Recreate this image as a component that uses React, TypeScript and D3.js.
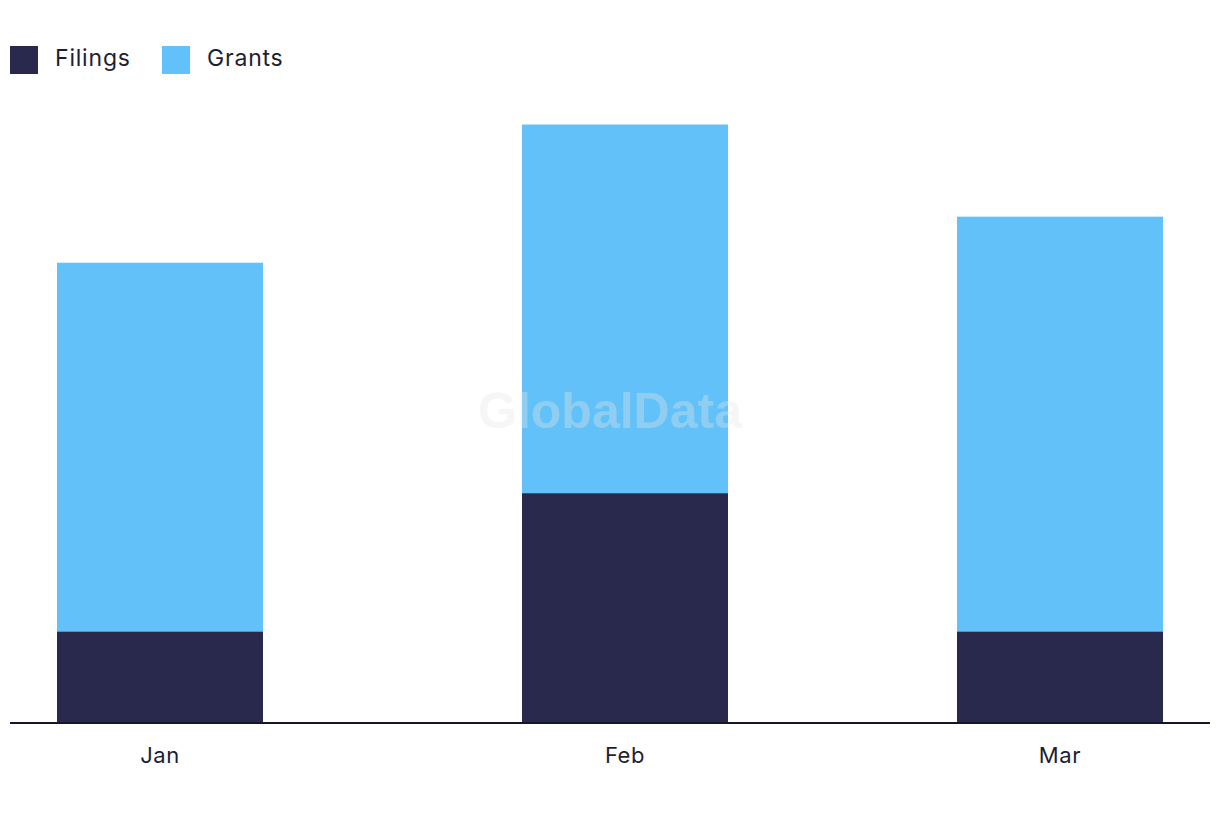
import React from "react";
import * as d3 from "d3";

const months = ["Jan", "Feb", "Mar"];
const monthDates = [new Date(2024, 0, 1), new Date(2024, 1, 1), new Date(2024, 2, 1)];
const filings = [2, 5, 2];
const grants = [8, 8, 9];
const seriesNames = ["Filings", "Grants"];
const seriesColors = ["#28294d", "#62c1f8"];

const W = 1220;
const H = 822;

export default function App() {
  const x = d3
    .scaleTime()
    .domain([new Date(2023, 11, 22), new Date(2024, 2, 11)])
    .range([10, 1210]);
  const y = d3.scaleLinear().domain([0, 13]).range([723.5, 124.5]);
  const barW = 206;

  const rows = months.map((m, i) => ({ month: m, date: monthDates[i], Filings: filings[i], Grants: grants[i] }));
  const stacked = d3.stack<any>().keys(seriesNames)(rows);
  const font = "Inter, 'DejaVu Sans', sans-serif";

  return (
    <svg width={W} height={H} style={{ position: "absolute", left: 0, top: 0, background: "#fff" }} fontFamily={font}>
      {stacked.map((layer, si) => (
        <g key={layer.key} fill={seriesColors[si]}>
          {layer.map((d, i) => (
            <rect
              key={i}
              x={x(rows[i].date) - barW / 2}
              y={y(d[1])}
              width={barW}
              height={y(d[0]) - y(d[1])}
            />
          ))}
        </g>
      ))}
      <text
        x={610}
        y={428}
        textAnchor="middle"
        fontSize={50}
        fontWeight="bold"
        fontFamily="'Liberation Sans', Arial, sans-serif"
        fill="#e6e6e6"
        opacity={0.35}
      >
        GlobalData
      </text>
      <line x1={10} x2={1210} y1={723} y2={723} stroke="#16152e" strokeWidth={2} />
      {rows.map((r) => (
        <text key={r.month} x={x(r.date)} y={763} textAnchor="middle" fontSize={22} letterSpacing={0.6} fill="#1e1e32">
          {r.month}
        </text>
      ))}
      <g>
        <rect x={10} y={46} width={28} height={28} fill={seriesColors[0]} />
        <text x={55} y={66} fontSize={23} letterSpacing={0.8} fill="#1e1e32">{seriesNames[0]}</text>
        <rect x={162} y={46} width={28} height={28} fill={seriesColors[1]} />
        <text x={207} y={66} fontSize={23} letterSpacing={0.8} fill="#1e1e32">{seriesNames[1]}</text>
      </g>
    </svg>
  );
}
